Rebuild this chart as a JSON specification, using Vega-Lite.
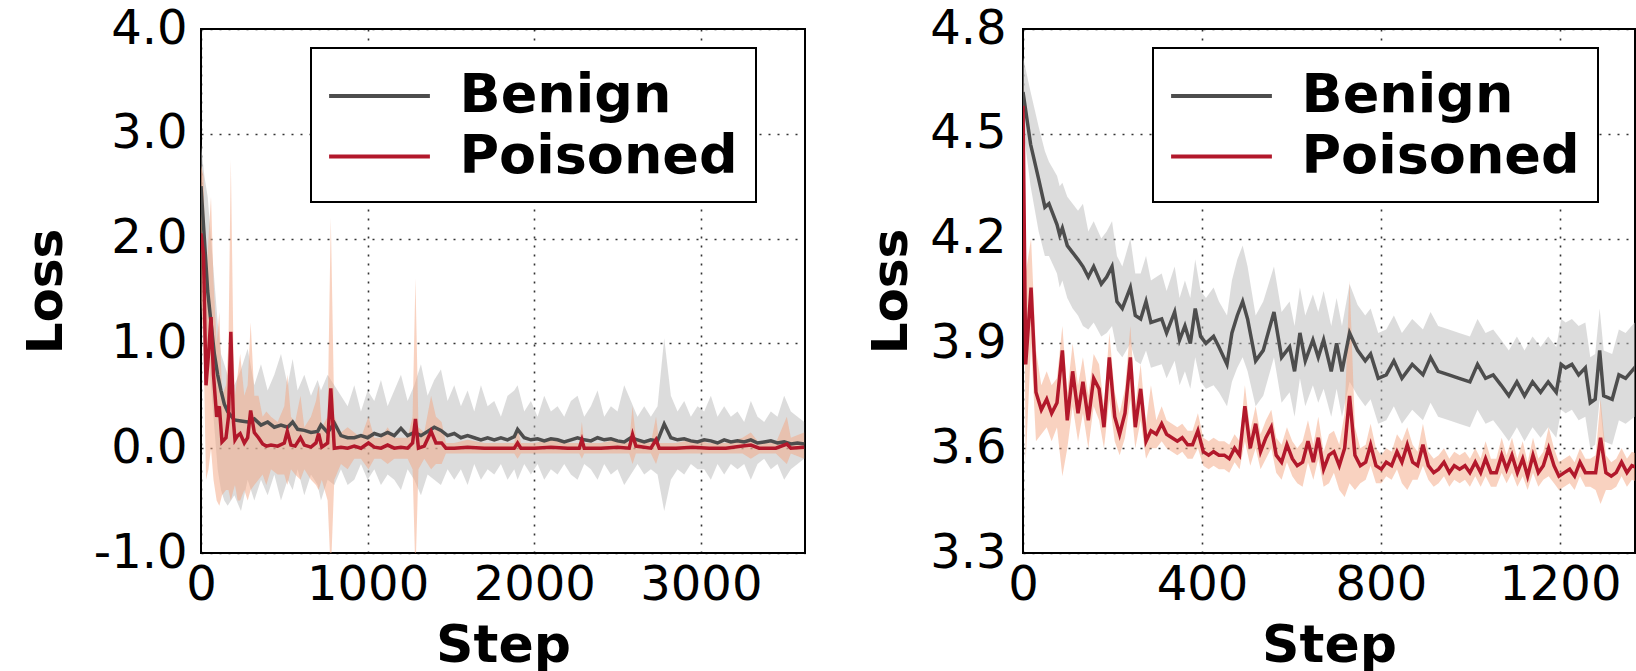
{
  "$schema": "https://vega.github.io/schema/vega-lite/v6.json",
  "padding": {"left": 20, "top": 4, "right": 0, "bottom": 0},
  "background": "white",
  "spacing": 59,
  "datasets": {
    "lb": [
      {"x":0,"m":2.5,"lo":2.2,"hi":2.9},{"x":20,"m":2.0,"lo":1.6,"hi":2.6},{"x":40,"m":1.5,"lo":1.0,"hi":2.4},{"x":60,"m":1.2,"lo":0.6,"hi":2.0},{"x":80,"m":0.9,"lo":0.2,"hi":1.6},{"x":100,"m":0.7,"lo":-0.2,"hi":1.2},{"x":120,"m":0.55,"lo":-0.4,"hi":0.9},{"x":140,"m":0.42,"lo":-0.5,"hi":0.8},{"x":160,"m":0.35,"lo":-0.55,"hi":0.7},{"x":200,"m":0.27,"lo":-0.45,"hi":0.6},{"x":240,"m":0.26,"lo":-0.6,"hi":0.75},{"x":280,"m":0.25,"lo":-0.3,"hi":0.95},{"x":320,"m":0.28,"lo":-0.5,"hi":0.6},{"x":360,"m":0.22,"lo":-0.3,"hi":0.8},{"x":400,"m":0.25,"lo":-0.45,"hi":0.55},{"x":440,"m":0.2,"lo":-0.25,"hi":0.7},{"x":480,"m":0.22,"lo":-0.5,"hi":0.9},{"x":520,"m":0.2,"lo":-0.3,"hi":0.6},{"x":550,"m":0.25,"lo":-0.4,"hi":0.85},{"x":580,"m":0.18,"lo":-0.2,"hi":0.55},{"x":620,"m":0.17,"lo":-0.45,"hi":0.7},{"x":660,"m":0.15,"lo":-0.25,"hi":0.5},{"x":700,"m":0.16,"lo":-0.35,"hi":0.65},{"x":720,"m":0.22,"lo":-0.5,"hi":0.55},{"x":760,"m":0.15,"lo":-0.3,"hi":0.7},{"x":800,"m":0.24,"lo":-0.35,"hi":0.6},{"x":840,"m":0.12,"lo":-0.2,"hi":0.5},{"x":880,"m":0.1,"lo":-0.35,"hi":0.4},{"x":920,"m":0.1,"lo":-0.3,"hi":0.6},{"x":960,"m":0.12,"lo":-0.15,"hi":0.35},{"x":1000,"m":0.1,"lo":-0.3,"hi":0.55},{"x":1040,"m":0.14,"lo":-0.2,"hi":0.45},{"x":1080,"m":0.12,"lo":-0.35,"hi":0.65},{"x":1120,"m":0.15,"lo":-0.25,"hi":0.4},{"x":1160,"m":0.12,"lo":-0.3,"hi":0.55},{"x":1200,"m":0.19,"lo":-0.4,"hi":0.7},{"x":1240,"m":0.12,"lo":-0.2,"hi":0.45},{"x":1280,"m":0.15,"lo":-0.3,"hi":0.6},{"x":1320,"m":0.12,"lo":-0.45,"hi":0.8},{"x":1360,"m":0.16,"lo":-0.25,"hi":0.5},{"x":1400,"m":0.2,"lo":-0.3,"hi":0.65},{"x":1440,"m":0.17,"lo":-0.35,"hi":0.75},{"x":1480,"m":0.12,"lo":-0.2,"hi":0.45},{"x":1520,"m":0.14,"lo":-0.3,"hi":0.6},{"x":1560,"m":0.1,"lo":-0.2,"hi":0.4},{"x":1600,"m":0.12,"lo":-0.35,"hi":0.55},{"x":1640,"m":0.1,"lo":-0.15,"hi":0.35},{"x":1680,"m":0.08,"lo":-0.3,"hi":0.6},{"x":1720,"m":0.1,"lo":-0.2,"hi":0.4},{"x":1760,"m":0.08,"lo":-0.25,"hi":0.45},{"x":1800,"m":0.1,"lo":-0.15,"hi":0.3},{"x":1840,"m":0.08,"lo":-0.3,"hi":0.5},{"x":1880,"m":0.11,"lo":-0.2,"hi":0.55},{"x":1900,"m":0.18,"lo":-0.3,"hi":0.6},{"x":1940,"m":0.1,"lo":-0.15,"hi":0.35},{"x":1980,"m":0.08,"lo":-0.25,"hi":0.45},{"x":2020,"m":0.09,"lo":-0.15,"hi":0.3},{"x":2060,"m":0.07,"lo":-0.3,"hi":0.5},{"x":2100,"m":0.09,"lo":-0.2,"hi":0.35},{"x":2140,"m":0.08,"lo":-0.25,"hi":0.4},{"x":2180,"m":0.06,"lo":-0.15,"hi":0.3},{"x":2220,"m":0.08,"lo":-0.25,"hi":0.45},{"x":2260,"m":0.1,"lo":-0.3,"hi":0.5},{"x":2300,"m":0.08,"lo":-0.15,"hi":0.3},{"x":2340,"m":0.07,"lo":-0.2,"hi":0.4},{"x":2380,"m":0.1,"lo":-0.3,"hi":0.55},{"x":2420,"m":0.08,"lo":-0.15,"hi":0.3},{"x":2460,"m":0.09,"lo":-0.25,"hi":0.4},{"x":2500,"m":0.07,"lo":-0.2,"hi":0.35},{"x":2540,"m":0.06,"lo":-0.35,"hi":0.6},{"x":2580,"m":0.1,"lo":-0.25,"hi":0.45},{"x":2620,"m":0.08,"lo":-0.15,"hi":0.3},{"x":2660,"m":0.06,"lo":-0.25,"hi":0.4},{"x":2700,"m":0.08,"lo":-0.2,"hi":0.3},{"x":2740,"m":0.07,"lo":-0.25,"hi":0.4},{"x":2780,"m":0.23,"lo":-0.6,"hi":1.05},{"x":2820,"m":0.1,"lo":-0.3,"hi":0.5},{"x":2860,"m":0.08,"lo":-0.2,"hi":0.35},{"x":2900,"m":0.09,"lo":-0.25,"hi":0.45},{"x":2940,"m":0.07,"lo":-0.15,"hi":0.3},{"x":2980,"m":0.06,"lo":-0.2,"hi":0.4},{"x":3020,"m":0.08,"lo":-0.2,"hi":0.35},{"x":3060,"m":0.07,"lo":-0.3,"hi":0.5},{"x":3100,"m":0.05,"lo":-0.15,"hi":0.3},{"x":3140,"m":0.08,"lo":-0.25,"hi":0.4},{"x":3180,"m":0.06,"lo":-0.15,"hi":0.3},{"x":3220,"m":0.07,"lo":-0.2,"hi":0.35},{"x":3260,"m":0.06,"lo":-0.15,"hi":0.25},{"x":3300,"m":0.08,"lo":-0.3,"hi":0.45},{"x":3340,"m":0.05,"lo":-0.15,"hi":0.3},{"x":3380,"m":0.06,"lo":-0.1,"hi":0.25},{"x":3420,"m":0.07,"lo":-0.2,"hi":0.35},{"x":3460,"m":0.05,"lo":-0.15,"hi":0.3},{"x":3500,"m":0.06,"lo":-0.3,"hi":0.5},{"x":3540,"m":0.04,"lo":-0.2,"hi":0.35},{"x":3580,"m":0.05,"lo":-0.15,"hi":0.3},{"x":3620,"m":0.04,"lo":-0.1,"hi":0.25}
    ],
    "lp": [
      {"x":0,"m":2.05,"lo":1.4,"hi":2.7},{"x":15,"m":1.85,"lo":1.0,"hi":2.6},{"x":30,"m":0.6,"lo":-0.3,"hi":1.5},{"x":45,"m":0.9,"lo":-0.2,"hi":2.0},{"x":60,"m":1.25,"lo":0.0,"hi":2.4},{"x":75,"m":0.7,"lo":-0.3,"hi":1.6},{"x":94,"m":0.3,"lo":-0.5,"hi":1.0},{"x":110,"m":0.4,"lo":-0.55,"hi":1.3},{"x":126,"m":0.06,"lo":-0.45,"hi":0.5},{"x":150,"m":0.1,"lo":-0.4,"hi":0.6},{"x":165,"m":0.3,"lo":-0.4,"hi":1.0},{"x":179,"m":1.11,"lo":-0.5,"hi":2.75},{"x":195,"m":0.25,"lo":-0.4,"hi":0.9},{"x":204,"m":0.08,"lo":-0.35,"hi":0.5},{"x":220,"m":0.12,"lo":-0.5,"hi":0.7},{"x":235,"m":0.14,"lo":-0.5,"hi":0.9},{"x":260,"m":0.05,"lo":-0.4,"hi":0.5},{"x":280,"m":0.1,"lo":-0.5,"hi":0.6},{"x":298,"m":0.36,"lo":-0.4,"hi":1.2},{"x":320,"m":0.15,"lo":-0.35,"hi":0.5},{"x":345,"m":0.1,"lo":-0.3,"hi":0.5},{"x":370,"m":0.04,"lo":-0.25,"hi":0.3},{"x":392,"m":0.02,"lo":-0.35,"hi":0.35},{"x":420,"m":0.03,"lo":-0.2,"hi":0.3},{"x":460,"m":0.02,"lo":-0.25,"hi":0.25},{"x":500,"m":0.05,"lo":-0.25,"hi":0.4},{"x":518,"m":0.16,"lo":-0.35,"hi":0.7},{"x":540,"m":0.03,"lo":-0.2,"hi":0.3},{"x":565,"m":0.02,"lo":-0.25,"hi":0.25},{"x":597,"m":0.1,"lo":-0.3,"hi":0.5},{"x":620,"m":0.03,"lo":-0.2,"hi":0.2},{"x":660,"m":0.01,"lo":-0.3,"hi":0.3},{"x":690,"m":0.05,"lo":-0.35,"hi":0.45},{"x":706,"m":0.14,"lo":-0.4,"hi":0.6},{"x":725,"m":0.01,"lo":-0.3,"hi":0.2},{"x":760,"m":0.05,"lo":-0.5,"hi":0.3},{"x":779,"m":0.57,"lo":-1.2,"hi":2.2},{"x":800,"m":0.0,"lo":-0.3,"hi":0.3},{"x":840,"m":0.01,"lo":-0.15,"hi":0.15},{"x":880,"m":0.0,"lo":-0.2,"hi":0.2},{"x":920,"m":0.02,"lo":-0.1,"hi":0.15},{"x":960,"m":0.0,"lo":-0.1,"hi":0.1},{"x":1005,"m":0.05,"lo":-0.2,"hi":0.3},{"x":1040,"m":0.01,"lo":-0.1,"hi":0.1},{"x":1080,"m":0.0,"lo":-0.1,"hi":0.1},{"x":1120,"m":0.03,"lo":-0.15,"hi":0.2},{"x":1160,"m":0.0,"lo":-0.1,"hi":0.1},{"x":1200,"m":0.01,"lo":-0.1,"hi":0.1},{"x":1240,"m":0.0,"lo":-0.1,"hi":0.1},{"x":1270,"m":0.05,"lo":-0.2,"hi":0.3},{"x":1287,"m":0.28,"lo":-1.2,"hi":1.62},{"x":1305,"m":0.0,"lo":-0.2,"hi":0.2},{"x":1340,"m":0.02,"lo":-0.1,"hi":0.15},{"x":1381,"m":0.16,"lo":-0.2,"hi":0.5},{"x":1410,"m":0.05,"lo":-0.15,"hi":0.3},{"x":1444,"m":0.05,"lo":-0.15,"hi":0.25},{"x":1470,"m":0.0,"lo":-0.05,"hi":0.05},{"x":1520,"m":0.0,"lo":-0.05,"hi":0.05},{"x":1600,"m":0.01,"lo":-0.05,"hi":0.08},{"x":1700,"m":0.0,"lo":-0.05,"hi":0.05},{"x":1800,"m":0.0,"lo":-0.05,"hi":0.05},{"x":1880,"m":0.0,"lo":-0.05,"hi":0.05},{"x":1900,"m":0.05,"lo":-0.1,"hi":0.2},{"x":1920,"m":0.0,"lo":-0.05,"hi":0.05},{"x":2000,"m":0.0,"lo":-0.05,"hi":0.05},{"x":2100,"m":0.01,"lo":-0.05,"hi":0.08},{"x":2200,"m":0.0,"lo":-0.05,"hi":0.05},{"x":2270,"m":0.0,"lo":-0.05,"hi":0.05},{"x":2286,"m":0.08,"lo":-0.1,"hi":0.25},{"x":2300,"m":0.0,"lo":-0.05,"hi":0.05},{"x":2400,"m":0.0,"lo":-0.05,"hi":0.05},{"x":2500,"m":0.01,"lo":-0.05,"hi":0.08},{"x":2570,"m":0.0,"lo":-0.05,"hi":0.05},{"x":2590,"m":0.13,"lo":-0.15,"hi":0.4},{"x":2610,"m":0.02,"lo":-0.05,"hi":0.1},{"x":2700,"m":0.0,"lo":-0.05,"hi":0.05},{"x":2731,"m":0.08,"lo":-0.15,"hi":0.3},{"x":2750,"m":0.0,"lo":-0.05,"hi":0.05},{"x":2850,"m":0.0,"lo":-0.05,"hi":0.05},{"x":2950,"m":0.01,"lo":-0.05,"hi":0.08},{"x":3050,"m":0.0,"lo":-0.05,"hi":0.05},{"x":3150,"m":0.0,"lo":-0.05,"hi":0.05},{"x":3250,"m":0.02,"lo":-0.05,"hi":0.1},{"x":3300,"m":0.03,"lo":-0.1,"hi":0.15},{"x":3350,"m":0.0,"lo":-0.05,"hi":0.05},{"x":3450,"m":0.0,"lo":-0.05,"hi":0.05},{"x":3516,"m":0.04,"lo":-0.15,"hi":0.3},{"x":3540,"m":0.0,"lo":-0.05,"hi":0.1},{"x":3620,"m":0.01,"lo":-0.1,"hi":0.15}
    ],
    "rb": [
      {"x":0,"m":4.62,"lo":4.52,"hi":4.72},{"x":17,"m":4.47,"lo":4.35,"hi":4.62},{"x":35,"m":4.37,"lo":4.22,"hi":4.52},{"x":49,"m":4.29,"lo":4.15,"hi":4.45},{"x":58,"m":4.3,"lo":4.15,"hi":4.42},{"x":76,"m":4.24,"lo":4.1,"hi":4.38},{"x":82,"m":4.21,"lo":4.06,"hi":4.35},{"x":88,"m":4.23,"lo":4.08,"hi":4.36},{"x":99,"m":4.18,"lo":4.03,"hi":4.32},{"x":111,"m":4.16,"lo":4.0,"hi":4.3},{"x":123,"m":4.14,"lo":3.98,"hi":4.28},{"x":134,"m":4.12,"lo":3.95,"hi":4.3},{"x":146,"m":4.09,"lo":3.94,"hi":4.22},{"x":158,"m":4.12,"lo":3.96,"hi":4.25},{"x":175,"m":4.07,"lo":3.92,"hi":4.2},{"x":187,"m":4.09,"lo":3.93,"hi":4.22},{"x":199,"m":4.12,"lo":3.95,"hi":4.25},{"x":210,"m":4.02,"lo":3.88,"hi":4.15},{"x":222,"m":4.0,"lo":3.86,"hi":4.12},{"x":240,"m":4.06,"lo":3.9,"hi":4.2},{"x":251,"m":3.98,"lo":3.85,"hi":4.1},{"x":263,"m":3.97,"lo":3.84,"hi":4.1},{"x":275,"m":4.02,"lo":3.88,"hi":4.15},{"x":286,"m":3.96,"lo":3.83,"hi":4.08},{"x":310,"m":3.97,"lo":3.84,"hi":4.1},{"x":321,"m":3.93,"lo":3.8,"hi":4.05},{"x":339,"m":3.99,"lo":3.85,"hi":4.12},{"x":350,"m":3.91,"lo":3.78,"hi":4.03},{"x":362,"m":3.95,"lo":3.82,"hi":4.08},{"x":374,"m":3.9,"lo":3.77,"hi":4.03},{"x":385,"m":4.0,"lo":3.86,"hi":4.14},{"x":397,"m":3.92,"lo":3.79,"hi":4.05},{"x":409,"m":3.9,"lo":3.77,"hi":4.03},{"x":426,"m":3.92,"lo":3.78,"hi":4.06},{"x":438,"m":3.89,"lo":3.76,"hi":4.02},{"x":456,"m":3.84,"lo":3.72,"hi":3.98},{"x":467,"m":3.93,"lo":3.79,"hi":4.08},{"x":479,"m":3.98,"lo":3.83,"hi":4.14},{"x":491,"m":4.02,"lo":3.86,"hi":4.18},{"x":502,"m":3.97,"lo":3.82,"hi":4.12},{"x":520,"m":3.85,"lo":3.72,"hi":3.98},{"x":537,"m":3.88,"lo":3.75,"hi":4.02},{"x":561,"m":3.99,"lo":3.86,"hi":4.12},{"x":578,"m":3.86,"lo":3.73,"hi":3.99},{"x":596,"m":3.89,"lo":3.76,"hi":4.02},{"x":607,"m":3.82,"lo":3.69,"hi":3.95},{"x":619,"m":3.93,"lo":3.8,"hi":4.06},{"x":631,"m":3.85,"lo":3.72,"hi":3.98},{"x":648,"m":3.91,"lo":3.78,"hi":4.04},{"x":660,"m":3.86,"lo":3.73,"hi":3.99},{"x":672,"m":3.91,"lo":3.77,"hi":4.05},{"x":689,"m":3.82,"lo":3.69,"hi":3.95},{"x":701,"m":3.9,"lo":3.77,"hi":4.03},{"x":713,"m":3.82,"lo":3.69,"hi":3.95},{"x":730,"m":3.93,"lo":3.79,"hi":4.07},{"x":748,"m":3.88,"lo":3.75,"hi":4.01},{"x":765,"m":3.85,"lo":3.72,"hi":3.98},{"x":777,"m":3.87,"lo":3.74,"hi":4.0},{"x":794,"m":3.8,"lo":3.67,"hi":3.93},{"x":812,"m":3.81,"lo":3.68,"hi":3.94},{"x":829,"m":3.85,"lo":3.72,"hi":3.98},{"x":847,"m":3.8,"lo":3.67,"hi":3.93},{"x":870,"m":3.84,"lo":3.71,"hi":3.97},{"x":894,"m":3.81,"lo":3.68,"hi":3.94},{"x":911,"m":3.86,"lo":3.73,"hi":3.99},{"x":928,"m":3.82,"lo":3.69,"hi":3.95},{"x":952,"m":3.81,"lo":3.68,"hi":3.94},{"x":975,"m":3.8,"lo":3.67,"hi":3.93},{"x":999,"m":3.79,"lo":3.66,"hi":3.92},{"x":1016,"m":3.84,"lo":3.71,"hi":3.97},{"x":1034,"m":3.8,"lo":3.67,"hi":3.93},{"x":1051,"m":3.81,"lo":3.68,"hi":3.94},{"x":1069,"m":3.78,"lo":3.65,"hi":3.91},{"x":1086,"m":3.75,"lo":3.62,"hi":3.88},{"x":1104,"m":3.79,"lo":3.66,"hi":3.92},{"x":1121,"m":3.75,"lo":3.62,"hi":3.88},{"x":1139,"m":3.79,"lo":3.66,"hi":3.92},{"x":1157,"m":3.76,"lo":3.63,"hi":3.89},{"x":1174,"m":3.79,"lo":3.66,"hi":3.92},{"x":1192,"m":3.76,"lo":3.63,"hi":3.89},{"x":1203,"m":3.84,"lo":3.71,"hi":3.97},{"x":1213,"m":3.83,"lo":3.7,"hi":3.96},{"x":1227,"m":3.84,"lo":3.71,"hi":3.97},{"x":1242,"m":3.81,"lo":3.68,"hi":3.95},{"x":1257,"m":3.83,"lo":3.69,"hi":3.96},{"x":1268,"m":3.73,"lo":3.6,"hi":3.86},{"x":1279,"m":3.74,"lo":3.61,"hi":3.87},{"x":1289,"m":3.88,"lo":3.74,"hi":4.0},{"x":1298,"m":3.75,"lo":3.62,"hi":3.88},{"x":1317,"m":3.74,"lo":3.61,"hi":3.87},{"x":1332,"m":3.81,"lo":3.68,"hi":3.94},{"x":1347,"m":3.8,"lo":3.67,"hi":3.93},{"x":1367,"m":3.83,"lo":3.69,"hi":3.96},{"x":1380,"m":3.8,"lo":3.67,"hi":3.93}
    ],
    "rp": [
      {"x":0,"m":4.58,"lo":4.5,"hi":4.66},{"x":6,"m":3.84,"lo":3.56,"hi":4.1},{"x":18,"m":4.06,"lo":3.9,"hi":4.2},{"x":29,"m":3.76,"lo":3.62,"hi":3.88},{"x":41,"m":3.71,"lo":3.64,"hi":3.78},{"x":53,"m":3.74,"lo":3.66,"hi":3.82},{"x":64,"m":3.7,"lo":3.62,"hi":3.78},{"x":76,"m":3.73,"lo":3.66,"hi":3.8},{"x":88,"m":3.88,"lo":3.52,"hi":3.95},{"x":99,"m":3.68,"lo":3.6,"hi":3.76},{"x":111,"m":3.82,"lo":3.72,"hi":3.9},{"x":123,"m":3.7,"lo":3.62,"hi":3.78},{"x":134,"m":3.79,"lo":3.7,"hi":3.86},{"x":146,"m":3.68,"lo":3.6,"hi":3.75},{"x":158,"m":3.8,"lo":3.72,"hi":3.87},{"x":170,"m":3.77,"lo":3.68,"hi":3.84},{"x":181,"m":3.66,"lo":3.6,"hi":3.72},{"x":193,"m":3.86,"lo":3.74,"hi":3.93},{"x":205,"m":3.69,"lo":3.62,"hi":3.76},{"x":216,"m":3.64,"lo":3.58,"hi":3.7},{"x":228,"m":3.7,"lo":3.63,"hi":3.77},{"x":240,"m":3.86,"lo":3.74,"hi":3.95},{"x":251,"m":3.66,"lo":3.6,"hi":3.72},{"x":263,"m":3.77,"lo":3.68,"hi":3.84},{"x":275,"m":3.62,"lo":3.57,"hi":3.67},{"x":286,"m":3.65,"lo":3.6,"hi":3.78},{"x":298,"m":3.64,"lo":3.6,"hi":3.68},{"x":310,"m":3.67,"lo":3.62,"hi":3.72},{"x":321,"m":3.64,"lo":3.6,"hi":3.68},{"x":333,"m":3.63,"lo":3.59,"hi":3.67},{"x":345,"m":3.62,"lo":3.58,"hi":3.66},{"x":356,"m":3.63,"lo":3.59,"hi":3.67},{"x":368,"m":3.61,"lo":3.57,"hi":3.65},{"x":379,"m":3.61,"lo":3.57,"hi":3.65},{"x":391,"m":3.65,"lo":3.6,"hi":3.7},{"x":403,"m":3.59,"lo":3.55,"hi":3.63},{"x":415,"m":3.58,"lo":3.54,"hi":3.62},{"x":426,"m":3.59,"lo":3.55,"hi":3.63},{"x":438,"m":3.58,"lo":3.54,"hi":3.62},{"x":450,"m":3.58,"lo":3.54,"hi":3.62},{"x":461,"m":3.57,"lo":3.53,"hi":3.61},{"x":473,"m":3.6,"lo":3.56,"hi":3.64},{"x":484,"m":3.58,"lo":3.54,"hi":3.62},{"x":496,"m":3.72,"lo":3.62,"hi":3.78},{"x":508,"m":3.6,"lo":3.55,"hi":3.65},{"x":520,"m":3.67,"lo":3.6,"hi":3.72},{"x":531,"m":3.59,"lo":3.54,"hi":3.64},{"x":543,"m":3.63,"lo":3.57,"hi":3.68},{"x":555,"m":3.66,"lo":3.6,"hi":3.71},{"x":566,"m":3.58,"lo":3.53,"hi":3.63},{"x":578,"m":3.56,"lo":3.51,"hi":3.61},{"x":590,"m":3.61,"lo":3.56,"hi":3.66},{"x":602,"m":3.57,"lo":3.52,"hi":3.62},{"x":613,"m":3.55,"lo":3.5,"hi":3.6},{"x":625,"m":3.56,"lo":3.49,"hi":3.62},{"x":637,"m":3.62,"lo":3.56,"hi":3.68},{"x":649,"m":3.56,"lo":3.51,"hi":3.61},{"x":660,"m":3.63,"lo":3.57,"hi":3.69},{"x":672,"m":3.54,"lo":3.49,"hi":3.59},{"x":684,"m":3.58,"lo":3.5,"hi":3.64},{"x":695,"m":3.59,"lo":3.53,"hi":3.65},{"x":707,"m":3.55,"lo":3.48,"hi":3.61},{"x":719,"m":3.6,"lo":3.46,"hi":3.7},{"x":730,"m":3.75,"lo":3.5,"hi":4.08},{"x":742,"m":3.58,"lo":3.48,"hi":3.66},{"x":754,"m":3.55,"lo":3.5,"hi":3.6},{"x":766,"m":3.56,"lo":3.51,"hi":3.61},{"x":777,"m":3.61,"lo":3.55,"hi":3.67},{"x":789,"m":3.55,"lo":3.5,"hi":3.6},{"x":801,"m":3.54,"lo":3.5,"hi":3.58},{"x":812,"m":3.56,"lo":3.52,"hi":3.6},{"x":824,"m":3.55,"lo":3.51,"hi":3.59},{"x":836,"m":3.59,"lo":3.54,"hi":3.64},{"x":847,"m":3.56,"lo":3.5,"hi":3.62},{"x":859,"m":3.61,"lo":3.48,"hi":3.66},{"x":871,"m":3.56,"lo":3.51,"hi":3.61},{"x":882,"m":3.55,"lo":3.51,"hi":3.59},{"x":894,"m":3.61,"lo":3.55,"hi":3.67},{"x":906,"m":3.55,"lo":3.51,"hi":3.59},{"x":918,"m":3.53,"lo":3.49,"hi":3.57},{"x":929,"m":3.54,"lo":3.5,"hi":3.58},{"x":941,"m":3.56,"lo":3.52,"hi":3.6},{"x":953,"m":3.53,"lo":3.49,"hi":3.57},{"x":964,"m":3.55,"lo":3.51,"hi":3.59},{"x":976,"m":3.54,"lo":3.5,"hi":3.58},{"x":988,"m":3.55,"lo":3.51,"hi":3.59},{"x":999,"m":3.53,"lo":3.49,"hi":3.57},{"x":1011,"m":3.56,"lo":3.52,"hi":3.6},{"x":1023,"m":3.53,"lo":3.49,"hi":3.57},{"x":1034,"m":3.57,"lo":3.52,"hi":3.62},{"x":1046,"m":3.53,"lo":3.49,"hi":3.57},{"x":1058,"m":3.53,"lo":3.49,"hi":3.57},{"x":1070,"m":3.58,"lo":3.53,"hi":3.63},{"x":1081,"m":3.54,"lo":3.5,"hi":3.58},{"x":1093,"m":3.58,"lo":3.53,"hi":3.63},{"x":1105,"m":3.53,"lo":3.49,"hi":3.57},{"x":1117,"m":3.57,"lo":3.52,"hi":3.62},{"x":1128,"m":3.52,"lo":3.48,"hi":3.56},{"x":1140,"m":3.58,"lo":3.53,"hi":3.63},{"x":1152,"m":3.53,"lo":3.49,"hi":3.57},{"x":1163,"m":3.55,"lo":3.51,"hi":3.59},{"x":1175,"m":3.6,"lo":3.52,"hi":3.66},{"x":1187,"m":3.55,"lo":3.5,"hi":3.6},{"x":1198,"m":3.52,"lo":3.48,"hi":3.56},{"x":1210,"m":3.53,"lo":3.49,"hi":3.57},{"x":1222,"m":3.54,"lo":3.5,"hi":3.58},{"x":1233,"m":3.52,"lo":3.48,"hi":3.56},{"x":1245,"m":3.56,"lo":3.52,"hi":3.6},{"x":1257,"m":3.53,"lo":3.49,"hi":3.57},{"x":1268,"m":3.53,"lo":3.49,"hi":3.57},{"x":1280,"m":3.53,"lo":3.48,"hi":3.58},{"x":1291,"m":3.63,"lo":3.44,"hi":3.74},{"x":1303,"m":3.53,"lo":3.48,"hi":3.58},{"x":1315,"m":3.52,"lo":3.48,"hi":3.56},{"x":1326,"m":3.53,"lo":3.49,"hi":3.57},{"x":1338,"m":3.56,"lo":3.52,"hi":3.6},{"x":1350,"m":3.53,"lo":3.49,"hi":3.57},{"x":1361,"m":3.55,"lo":3.51,"hi":3.59},{"x":1380,"m":3.54,"lo":3.5,"hi":3.58}
    ]
  },
  "hconcat": [
    {
      "width": 604,
      "height": 524,
      "layer": [
        {
          "data": {"name": "lb"},
          "mark": {"type": "area", "color": "#bababa", "opacity": 0.5, "clip": true},
          "encoding": {
            "x": {"field": "x", "type": "quantitative", "title": "Step", "scale": {"domain": [0, 3625], "nice": false, "zero": false}, "axis": {"values": [0, 1000, 2000, 3000], "format": "d"}},
            "y": {"field": "lo", "type": "quantitative", "title": "Loss", "scale": {"domain": [-1, 4], "nice": false, "zero": false}, "axis": {"values": [-1, 0, 1, 2, 3, 4], "labelExpr": "replace(format(datum.value, '.1f'), '\u2212', '-')", "labelPadding": 14, "titlePadding": 22}},
            "y2": {"field": "hi"}
          }
        },
        {
          "data": {"name": "lp"},
          "mark": {"type": "area", "color": "#f4a582", "opacity": 0.5, "clip": true},
          "encoding": {
            "x": {"field": "x", "type": "quantitative", "title": "Step"},
            "y": {"field": "lo", "type": "quantitative", "title": "Loss"},
            "y2": {"field": "hi"}
          }
        },
        {
          "data": {"name": "lb"},
          "mark": {"type": "line", "strokeWidth": 3.5, "clip": true},
          "encoding": {
            "x": {"field": "x", "type": "quantitative", "title": "Step"},
            "y": {"field": "m", "type": "quantitative", "title": "Loss"},
            "color": {"datum": "Benign", "scale": {"domain": ["Benign", "Poisoned"], "range": ["#4d4d4d", "#b2182b"]}, "legend": {"orient": "none", "legendX": 110, "legendY": 19}}
          }
        },
        {
          "data": {"name": "lp"},
          "mark": {"type": "line", "strokeWidth": 3.5, "clip": true},
          "encoding": {
            "x": {"field": "x", "type": "quantitative", "title": "Step"},
            "y": {"field": "m", "type": "quantitative", "title": "Loss"},
            "color": {"datum": "Poisoned"}
          }
        }
      ]
    },
    {
      "width": 612,
      "height": 524,
      "layer": [
        {
          "data": {"name": "rb"},
          "mark": {"type": "area", "color": "#bababa", "opacity": 0.5, "clip": true},
          "encoding": {
            "x": {"field": "x", "type": "quantitative", "title": "Step", "scale": {"domain": [0, 1368], "nice": false, "zero": false}, "axis": {"values": [0, 400, 800, 1200], "format": "d"}},
            "y": {"field": "lo", "type": "quantitative", "title": "Loss", "scale": {"domain": [3.3, 4.8], "nice": false, "zero": false}, "axis": {"values": [3.3, 3.6, 3.9, 4.2, 4.5, 4.8], "format": ".1f", "labelPadding": 17, "titlePadding": 13}},
            "y2": {"field": "hi"}
          }
        },
        {
          "data": {"name": "rp"},
          "mark": {"type": "area", "color": "#f4a582", "opacity": 0.5, "clip": true},
          "encoding": {
            "x": {"field": "x", "type": "quantitative", "title": "Step"},
            "y": {"field": "lo", "type": "quantitative", "title": "Loss"},
            "y2": {"field": "hi"}
          }
        },
        {
          "data": {"name": "rb"},
          "mark": {"type": "line", "strokeWidth": 3.5, "clip": true},
          "encoding": {
            "x": {"field": "x", "type": "quantitative", "title": "Step"},
            "y": {"field": "m", "type": "quantitative", "title": "Loss"},
            "color": {"datum": "Benign", "scale": {"domain": ["Benign", "Poisoned"], "range": ["#4d4d4d", "#b2182b"]}, "legend": {"orient": "none", "legendX": 130, "legendY": 19}}
          }
        },
        {
          "data": {"name": "rp"},
          "mark": {"type": "line", "strokeWidth": 3.5, "clip": true},
          "encoding": {
            "x": {"field": "x", "type": "quantitative", "title": "Step"},
            "y": {"field": "m", "type": "quantitative", "title": "Loss"},
            "color": {"datum": "Poisoned"}
          }
        }
      ]
    }
  ],
  "resolve": {
    "scale": {"x": "independent", "y": "independent", "color": "independent"},
    "legend": {"color": "independent"}
  },
  "config": {
    "font": "DejaVu Sans",
    "view": {"stroke": "#000", "strokeWidth": 2},
    "axis": {
      "domain": false, "ticks": false, "grid": true,
      "gridColor": "#000", "gridDash": [2, 7], "gridWidth": 1.6, "gridOpacity": 0.8,
      "labelFont": "DejaVu Sans", "labelFontSize": 48, "labelColor": "#000",
      "labelFlush": false, "labelOverlap": false,
      "titleFont": "DejaVu Sans", "titleFontWeight": "bold", "titleColor": "#000"
    },
    "axisX": {"labelPadding": 8, "titlePadding": 11, "titleFontSize": 52},
    "axisY": {"titleFontSize": 50},
    "legend": {
      "title": null,
      "symbolType": "M-1.8,0L1.8,0",
      "symbolSize": 3136,
      "symbolStrokeWidth": 4,
      "symbolOffset": 20.5,
      "labelOffset": 50,
      "rowPadding": 3.5,
      "padding": 18,
      "strokeColor": "#000",
      "strokeWidth": 2,
      "fillColor": "#fff",
      "labelFont": "DejaVu Sans",
      "labelFontWeight": "bold",
      "labelFontSize": 54,
      "labelColor": "#000",
      "labelLimit": 0
    }
  }
}
